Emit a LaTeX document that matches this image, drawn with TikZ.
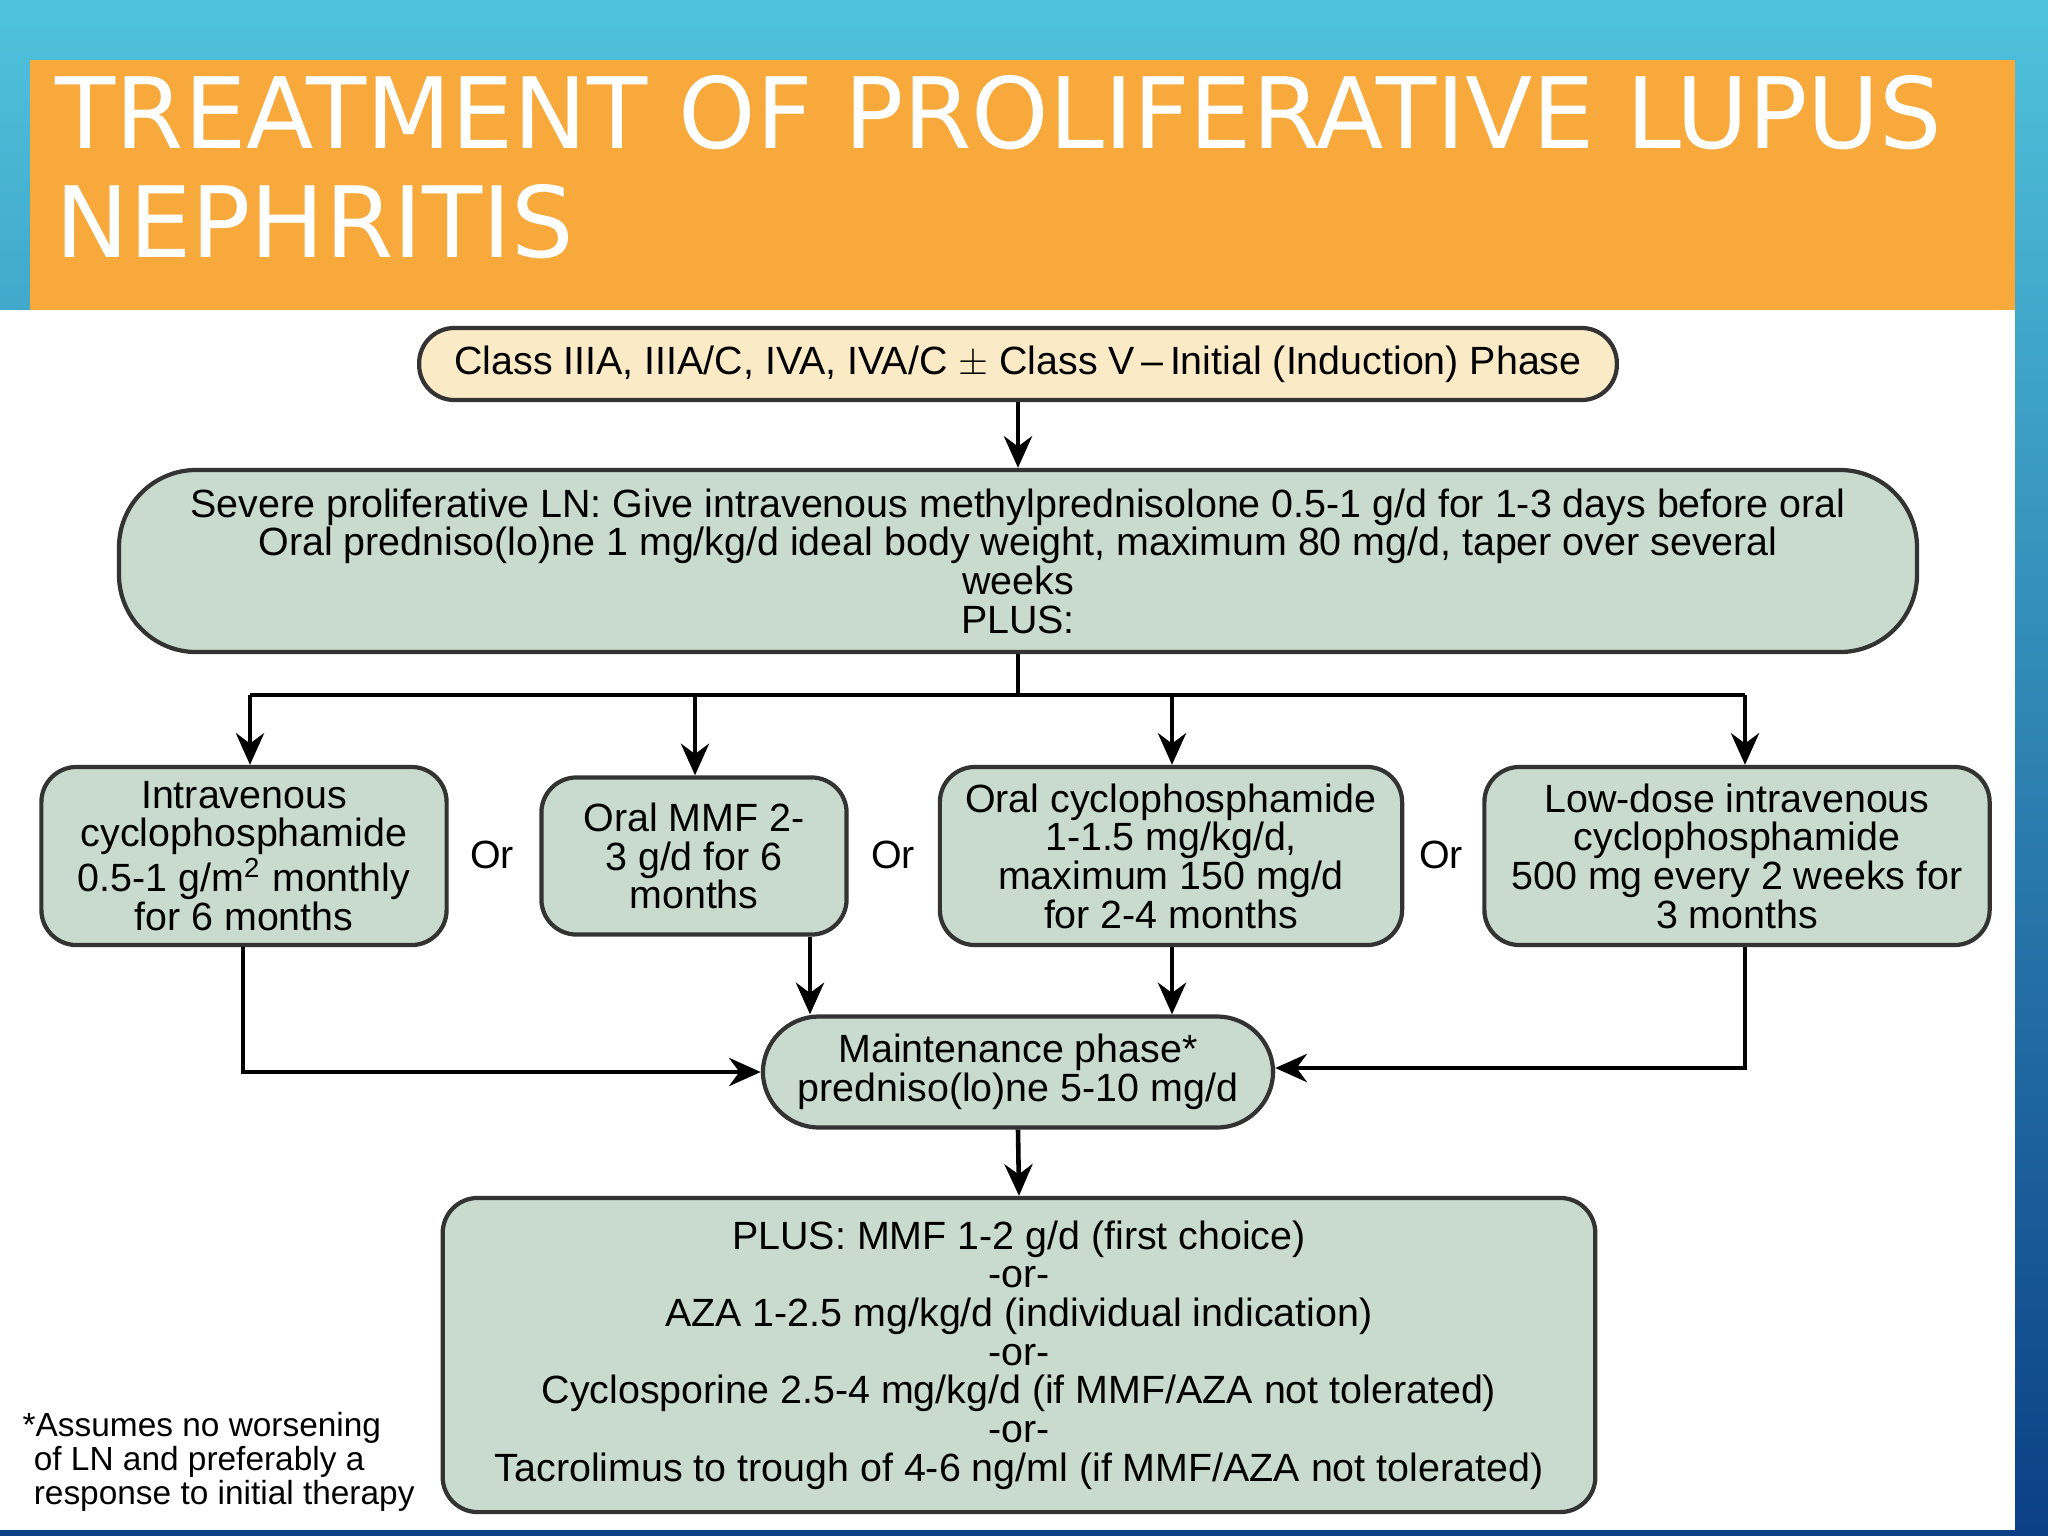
\documentclass[tikz,border=0pt]{standalone}
\usepackage{fontspec}
\setmainfont{Liberation Sans}
\newfontfamily\titlefont{DejaVu Sans}
\usetikzlibrary{arrows.meta}
\definecolor{boxg}{HTML}{C9DACF}
\definecolor{boxb}{HTML}{FBEAC6}
\definecolor{orng}{HTML}{F7A93C}
\definecolor{bgtop}{HTML}{4FC3DC}
\definecolor{bgbot}{HTML}{0B3F86}
\begin{document}
\begin{tikzpicture}[x=0.01cm,y=-0.01cm,
  box/.style={draw=black!80,line width=1.2pt,rounded corners=10pt,fill=boxg,align=center,font=\fontsize{11.2}{11}\selectfont,inner sep=0pt},
  arr/.style={line width=1.3pt,-{Stealth[length=9pt,width=8pt]}},
  ln/.style={line width=1.3pt}]
\useasboundingbox (0,0) rectangle (2048,1536);
\shade[top color=bgtop,bottom color=bgbot] (0,0) rectangle (2048,1536);
\fill[white] (0,310) rectangle (2015,1530);
\fill[orng] (30,60) rectangle (2015,310);
\node[anchor=north west,text=white,align=left,font=\titlefont\fontsize{28}{31}\selectfont,inner sep=0pt] (title) at (55,75) {TREATMENT OF PROLIFERATIVE LUPUS\\NEPHRITIS};

\node[box,fill=boxb,minimum width=11.97cm,minimum height=0.72cm] (top) at (1018,364) {Class IIIA, IIIA/C, IVA, IVA/C $\pm$ Class V\,--\,Initial (Induction) Phase};
\node[box,minimum width=17.97cm,minimum height=1.82cm,rounded corners=22pt] (big) at (1018,561) {Severe proliferative LN: Give intravenous methylprednisolone 0.5-1 g/d for 1-3 days before oral\\Oral predniso(lo)ne 1 mg/kg/d ideal body weight, maximum 80 mg/d, taper over several\\weeks\\PLUS:};
\node[box,minimum width=4.05cm,minimum height=1.78cm] (b1) at (244,856) {Intravenous\\cyclophosphamide\\0.5-1 g/m\textsuperscript{2} monthly\\for 6 months};
\node[box,minimum width=3.05cm,minimum height=1.57cm] (b2) at (694,856) {Oral MMF 2-\\3 g/d for 6\\months};
\node[box,minimum width=4.62cm,minimum height=1.78cm] (b3) at (1171,856) {Oral cyclophosphamide\\1-1.5 mg/kg/d,\\maximum 150 mg/d\\for 2-4 months};
\node[box,minimum width=5.05cm,minimum height=1.78cm] (b4) at (1737,856) {Low-dose intravenous\\cyclophosphamide\\500 mg every 2 weeks for\\3 months};
\node[box,minimum width=5.1cm,minimum height=1.11cm,rounded corners=16pt] (m) at (1018,1072) {Maintenance phase*\\predniso(lo)ne 5-10 mg/d};
\node[box,minimum width=11.52cm,minimum height=3.14cm] (bot) at (1019,1355) {PLUS: MMF 1-2 g/d (first choice)\\-or-\\AZA 1-2.5 mg/kg/d (individual indication)\\-or-\\Cyclosporine 2.5-4 mg/kg/d (if MMF/AZA not tolerated)\\-or-\\Tacrolimus to trough of 4-6 ng/ml (if MMF/AZA not tolerated)};

\node[font=\fontsize{11.2}{11}\selectfont] (o1) at (492,855) {Or};
\node[font=\fontsize{11.2}{11}\selectfont] (o2) at (893,855) {Or};
\node[font=\fontsize{11.2}{11}\selectfont] (o3) at (1441,855) {Or};
\node[anchor=north west,align=left,font=\fontsize{9.5}{9.6}\selectfont,inner sep=0pt] (fn) at (22,1412) {*Assumes no worsening\\\,\,of LN and preferably a\\\,\,response to initial therapy};

\draw[arr] (top.south) -- (big.north);
\coordinate (j) at (1018,695);
\draw[ln] (big.south) -- (j);
\draw[ln] (250,695) -- (1745,695);
\draw[arr] (250,695) -- (b1.north-|250,0);
\draw[arr] (695,695) -- (b2.north-|695,0);
\draw[arr] (1172,695) -- (b3.north-|1172,0);
\draw[arr] (1745,695) -- (b4.north-|1745,0);
\draw[arr] (b1.south-|243,0) |- (m.west|-0,1072);
\draw[arr] (b2.south-|810,0) -- (m.north-|810,0);
\draw[arr] (b3.south-|1172,0) -- (m.north-|1172,0);
\draw[arr] (b4.south-|1745,0) |- (m.east|-0,1068);
\draw[arr] (m.south) -- (bot.north);
\end{tikzpicture}
\end{document}
